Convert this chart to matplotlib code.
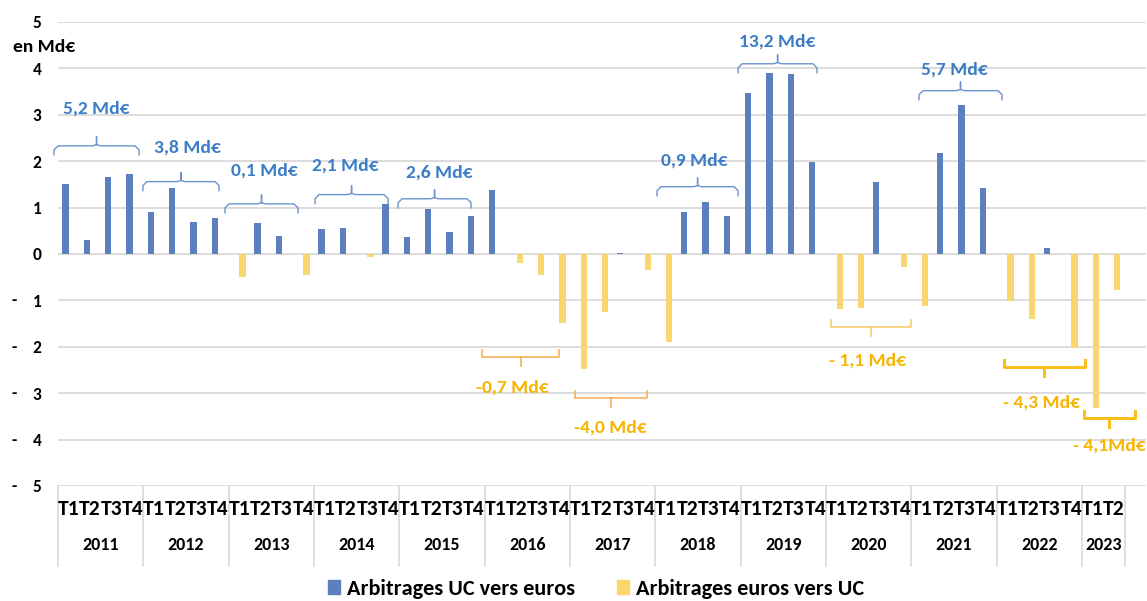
import matplotlib
matplotlib.use("Agg")
import matplotlib.pyplot as plt
import matplotlib.transforms as mtransforms
from matplotlib import font_manager
from matplotlib.patches import Patch
import numpy as np

# police proche de Calibri si disponible
available = {f.name for f in font_manager.fontManager.ttflist}
for fam in ["Carlito", "Calibri", "Open Sans", "DejaVu Sans"]:
    if fam in available:
        break
plt.rcParams["font.family"] = [fam, "DejaVu Sans"]

# arbitrages nets trimestriels, en Md€ (positif = UC vers euros, négatif = euros vers UC)
annees = ["2011", "2012", "2013", "2014", "2015", "2016", "2017",
          "2018", "2019", "2020", "2021", "2022", "2023"]
trimestres = ["T1", "T2", "T3", "T4"]
arbitrages_nets = [
    1.50, 0.30, 1.67, 1.72,     # 2011
    0.90, 1.43, 0.70, 0.78,     # 2012
    -0.49, 0.67, 0.39, -0.45,   # 2013
    0.53, 0.57, -0.07, 1.08,    # 2014
    0.37, 0.98, 0.47, 0.82,     # 2015
    1.39, -0.19, -0.45, -1.48,  # 2016
    -2.48, -1.24, 0.02, -0.34,  # 2017
    -1.90, 0.91, 1.12, 0.81,    # 2018
    3.47, 3.91, 3.87, 1.99,     # 2019
    -1.19, -1.16, 1.55, -0.29,  # 2020
    -1.11, 2.17, 3.21, 1.42,    # 2021
    -1.02, -1.40, 0.14, -2.03,  # 2022
    -3.32, -0.77,               # 2023
]
totaux_annuels = ["5,2 Md€", "3,8 Md€", "0,1 Md€", "2,1 Md€", "2,6 Md€", "-0,7 Md€", "-4,0 Md€",
                  "0,9 Md€", "13,2 Md€", "- 1,1 Md€", "5,7 Md€", "- 4,3 Md€", "- 4,1Md€"]

vals = np.array(arbitrages_nets)
uc_vers_euros = np.where(vals > 0, vals, 0)
euros_vers_uc = np.where(vals < 0, vals, 0)
n = len(vals)
x = np.arange(n)

BLEU = "#5B80BD"
JAUNE = "#F9D66E"
TXT_BLEU = "#3C7DC8"
TXT_JAUNE = "#F7B500"
GRILLE = "#D9D9D9"

W, H = 1147, 601
fig = plt.figure(figsize=(W / 100, H / 100), dpi=100)
ax = fig.add_axes([58 / W, 1 - 486 / H, 1088 / W, 464 / H])

w = 0.29
ax.bar(x - w / 2, uc_vers_euros, width=w, color=BLEU, zorder=3)
ax.bar(x + w / 2, euros_vers_uc, width=w, color=JAUNE, zorder=3)

ax.set_xlim(-0.5, 50.5)
ax.set_ylim(-5, 5)
for s in ax.spines.values():
    s.set_visible(False)
ax.set_yticks(range(-5, 6))
ax.set_yticklabels([str(abs(v)) for v in range(-5, 6)], fontsize=12.5, fontweight="bold")
ax.tick_params(axis="y", length=0, pad=12)
ax.yaxis.grid(True, color=GRILLE, lw=1.3, zorder=0)
ax.set_axisbelow(True)
ax.set_xticks([])

# tirets des valeurs négatives, style Excel comptable
tr_fig_y = mtransforms.blended_transform_factory(fig.transFigure, ax.transData)
for v in range(-5, 0):
    fig.text(14 / W, v, "-", transform=tr_fig_y, ha="center", va="center",
             fontsize=12.5, fontweight="bold")
fig.text(13 / W, 1 - 47 / H, "en Md€", ha="left", va="center", fontsize=14, fontweight="bold")

# axe des catégories sur deux niveaux
tr_x = mtransforms.blended_transform_factory(ax.transData, ax.transAxes)
for i in range(n):
    ax.text(i, -23 / 464, trimestres[i % 4], transform=tr_x, ha="center", va="center",
            fontsize=15.5, fontweight="bold")
for k, an in enumerate(annees):
    debut = 4 * k
    fin = min(4 * k + 4, n)
    ax.text((debut + fin - 1) / 2, -59 / 464, an, transform=tr_x, ha="center", va="center",
            fontsize=13, fontweight="bold")
bornes = list(range(0, n, 4)) + [n]
for b in bornes:
    ax.plot([b - 0.5, b - 0.5], [0, -80 / 464], transform=tr_x, color=GRILLE, lw=1.2,
            clip_on=False)

# accolades des totaux annuels
px_x = 1 / 21.333
px_y = 1 / 46.4


def accolade(x0, x1, y, couleur):
    xm = (x0 + x1) / 2
    r = 4 * px_x
    ry = 4 * px_y
    bras = 9 * px_y
    pointe = 9 * px_y
    xs = [x0, x0, x0 + r, xm - r, xm, xm, xm, xm + r, x1 - r, x1, x1]
    ys = [y - bras, y - ry, y, y, y + ry * 0.3, y + pointe, y + ry * 0.3, y, y, y - ry, y - bras]
    ax.plot(xs, ys, color=couleur, lw=1.0, solid_joinstyle="round", clip_on=False, zorder=4)


def crochet(x0, x1, y, couleur, lw):
    xm = (x0 + x1) / 2
    bras = 7 * px_y
    pointe = 9 * px_y
    ax.plot([x0, x0, x1, x1], [y + bras, y, y, y + bras], color=couleur, lw=lw,
            clip_on=False, zorder=4)
    ax.plot([xm, xm], [y, y - pointe], color=couleur, lw=lw, clip_on=False, zorder=4)


# (année, x0, x1, y de l'accolade, x du texte, y du texte)
hauts = [
    (0, -0.69, 3.30, 2.33, 1.30, 3.13),
    (1, 3.48, 7.05, 1.56, 5.55, 2.29),
    (2, 7.33, 10.75, 1.08, 9.16, 1.80),
    (3, 11.55, 14.97, 1.28, 12.98, 1.90),
    (4, 15.44, 18.86, 1.19, 17.38, 1.75),
    (7, 27.58, 31.38, 1.45, 29.31, 2.01),
    (8, 31.38, 35.08, 4.10, 33.23, 4.58),
    (10, 39.86, 43.75, 3.52, 41.50, 3.97),
]
for k, x0, x1, yb, xt, yt in hauts:
    accolade(x0, x1, yb, "#6A93CF")
    ax.text(xt, yt, totaux_annuels[k], ha="center", va="center", fontsize=14,
            fontweight="bold", color=TXT_BLEU, zorder=5)

# (année, x0, x1, y du crochet, x du texte, y du texte, couleur, épaisseur)
bas = [
    (5, 19.38, 22.98, -2.21, 20.80, -2.88, "#F5A94E", 1.1),
    (6, 23.73, 27.11, -3.11, 25.40, -3.74, "#F5A94E", 1.1),
    (9, 35.73, 39.48, -1.57, 37.45, -2.30, "#F9C865", 1.1),
    (11, 43.84, 47.64, -2.43, 45.60, -3.20, "#FBBF1C", 2.2),
    (12, 47.59, 49.98, -3.53, 48.77, -4.13, "#FBBF1C", 2.2),
]
for k, x0, x1, yb, xt, yt, c, lw in bas:
    crochet(x0, x1, yb, c, lw)
    ax.text(xt, yt, totaux_annuels[k], ha="center", va="center", fontsize=14,
            fontweight="bold", color=TXT_JAUNE, zorder=5)

handles = [Patch(color=BLEU, label="Arbitrages UC vers euros"),
           Patch(color=JAUNE, label="Arbitrages euros vers UC")]
fig.legend(handles=handles, loc="center", bbox_to_anchor=(596 / W, 1 - 589 / H), ncol=2,
           frameon=False, handlelength=0.55, handleheight=0.55,
           handletextpad=0.3, columnspacing=1.9, borderpad=0.1,
           prop={"weight": "bold", "size": 16})

fig.savefig("out.png", dpi=100)
